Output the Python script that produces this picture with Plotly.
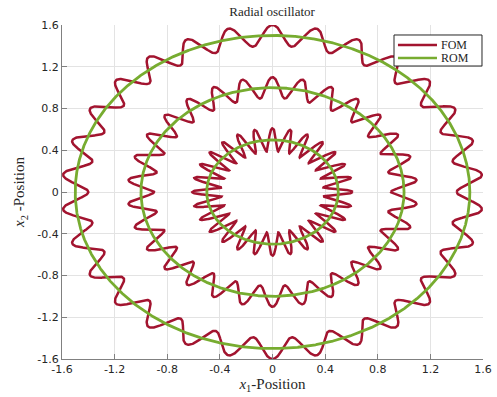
import numpy as np
import plotly.graph_objects as go

# Data
radii = [0.5, 1.0, 1.5]           # ROM circle radii
fom_amplitude = [0.11, 0.1, 0.1]  # radial wiggle amplitude of FOM
fom_waves = [28, 30, 30]          # wiggles per revolution
series_names = ["FOM", "ROM"]
tick_vals = [-1.6, -1.2, -0.8, -0.4, 0, 0.4, 0.8, 1.2, 1.6]
tick_text = ["-1.6", "-1.2", "-0.8", "-0.4", "0", "0.4", "0.8", "1.2", "1.6"]

FOM_COLOR = "#A2142F"
ROM_COLOR = "#77AC30"
colors = [FOM_COLOR, ROM_COLOR]

theta = np.linspace(0, 2 * np.pi, 3001)

fig = go.Figure()
for i, (R, a, n) in enumerate(zip(radii, fom_amplitude, fom_waves)):
    r = R + a * np.cos(n * (theta - np.pi / 2))
    fig.add_trace(go.Scatter(x=r * np.cos(theta), y=r * np.sin(theta), mode="lines",
                             line=dict(color=FOM_COLOR, width=2.5),
                             name="FOM", showlegend=False))
for i, R in enumerate(radii):
    fig.add_trace(go.Scatter(x=R * np.cos(theta), y=R * np.sin(theta), mode="lines",
                             line=dict(color=ROM_COLOR, width=2.8),
                             name="ROM", showlegend=False))

axis_common = dict(
    range=[-1.6, 1.6], tickvals=tick_vals, ticktext=tick_text,
    showgrid=True, gridcolor="#E3E3E3", gridwidth=1, zeroline=False,
    showline=True, linecolor="#808080", linewidth=1.2,
    ticks="inside", ticklen=5, tickcolor="#808080", automargin=False,
    tickfont=dict(family="DejaVu Sans", size=11, color="#262626"),
)

# Compact MATLAB-style legend box (paper coordinates)
shapes = [dict(type="rect", xref="paper", yref="paper", x0=0.7886, x1=0.9976,
               y0=0.8772, y1=0.9701, line=dict(color="#262626", width=1),
               fillcolor="white", layer="above")]
annotations = []
for name, col, ly in zip(series_names, colors, [0.9401, 0.9012]):
    shapes.append(dict(type="line", xref="paper", yref="paper", x0=0.798, x1=0.8907,
                       y0=ly, y1=ly, line=dict(color=col, width=2.5), layer="above"))
    annotations.append(dict(text=name, xref="paper", yref="paper", x=0.8955, y=ly,
                            xanchor="left", yanchor="middle", showarrow=False,
                            font=dict(family="Liberation Serif", size=12, color="#262626")))

fig.update_layout(
    width=497, height=397,
    margin=dict(l=62, r=14, t=25, b=38),
    paper_bgcolor="white", plot_bgcolor="white",
    title=dict(text="Radial oscillator", x=0.5475, xanchor="center", y=0.97, yanchor="middle",
               font=dict(family="Liberation Serif", size=13, color="#262626")),
    xaxis=dict(**axis_common,
               title=dict(text="<i>x</i><sub>1</sub>-Position", standoff=2,
                          font=dict(family="Liberation Serif", size=15, color="#262626"))),
    yaxis=dict(**axis_common,
               title=dict(text="<i>x</i><sub>2</sub> -Position", standoff=8,
                          font=dict(family="Liberation Serif", size=15, color="#262626"))),
    shapes=shapes, annotations=annotations,
    showlegend=False,
)

fig.write_html("out.html", config={"displayModeBar": False},
               post_script="document.body.style.margin='0';document.body.style.overflow='hidden';")
